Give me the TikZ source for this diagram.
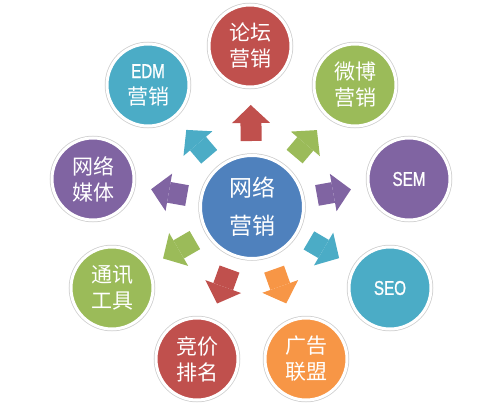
\documentclass[tikz,border=0pt]{standalone}
\usepackage{fontspec}
\usepackage{tikz}
\usetikzlibrary{arrows.meta}
\newfontfamily\cjk{Noto Sans CJK SC}
\newfontfamily\narrowlatin[FakeStretch=0.76,FakeBold=1]{Liberation Sans}
\definecolor{netblue}{HTML}{4F81BD}
\definecolor{netred}{HTML}{C0504D}
\definecolor{netgreen}{HTML}{9BBB59}
\definecolor{netpurple}{HTML}{8064A2}
\definecolor{netteal}{HTML}{4BACC6}
\definecolor{netorange}{HTML}{F79646}
\newcommand\abbr[1]{{\fontsize{20pt}{26pt}\narrowlatin #1}}
\newcommand\bubble[1]{\node[circle,fill=#1,draw=white,line width=3pt,preaction={draw=black!20,line width=4.5pt},minimum size=82pt,inner sep=0pt,text=white,align=center,font=\fontsize{21pt}{26pt}\cjk]}
\newcommand\hubnode{\node[circle,fill=netblue,draw=white,line width=3pt,preaction={draw=black!20,line width=4.5pt},minimum size=103pt,inner sep=0pt,text=white,align=center,font=\fontsize{23pt}{38pt}\cjk]}
\newcommand\push[1]{\draw[color=#1,line width=21pt,shorten <=66pt,shorten >=59pt,-{Triangle[length=18pt,width=38pt,line width=0pt]}]}

\begin{document}
\begin{tikzpicture}[x=1pt,y=1pt]
\useasboundingbox (0,0) rectangle (500,408);
\hubnode (net) at (252,201) {网络\\营销};
\bubble{netred} (forum) at (250,362) {论坛\\营销};
\bubble{netteal} (edm) at (148,323) {\abbr{EDM}\\营销};
\bubble{netgreen} (weibo) at (355,323) {微博\\营销};
\bubble{netpurple} (sem) at (409,229) {\abbr{SEM}};
\bubble{netpurple} (media) at (93,229) {网络\\媒体};
\bubble{netgreen} (chat) at (112,120) {通讯\\工具};
\bubble{netteal} (seo) at (390,120) {\abbr{SEO}};
\bubble{netred} (bid) at (197,49) {竞价\\排名};
\bubble{netorange} (ads) at (306,49) {广告\\联盟};
\push{netred} (net.center) -- (forum.center);
\push{netteal} (net.center) -- (edm.center);
\push{netgreen} (net.center) -- (weibo.center);
\push{netpurple} (net.center) -- (sem.center);
\push{netpurple} (net.center) -- (media.center);
\push{netgreen} (net.center) -- (chat.center);
\push{netteal} (net.center) -- (seo.center);
\push{netred} (net.center) -- (bid.center);
\push{netorange} (net.center) -- (ads.center);
\end{tikzpicture}
\end{document}
